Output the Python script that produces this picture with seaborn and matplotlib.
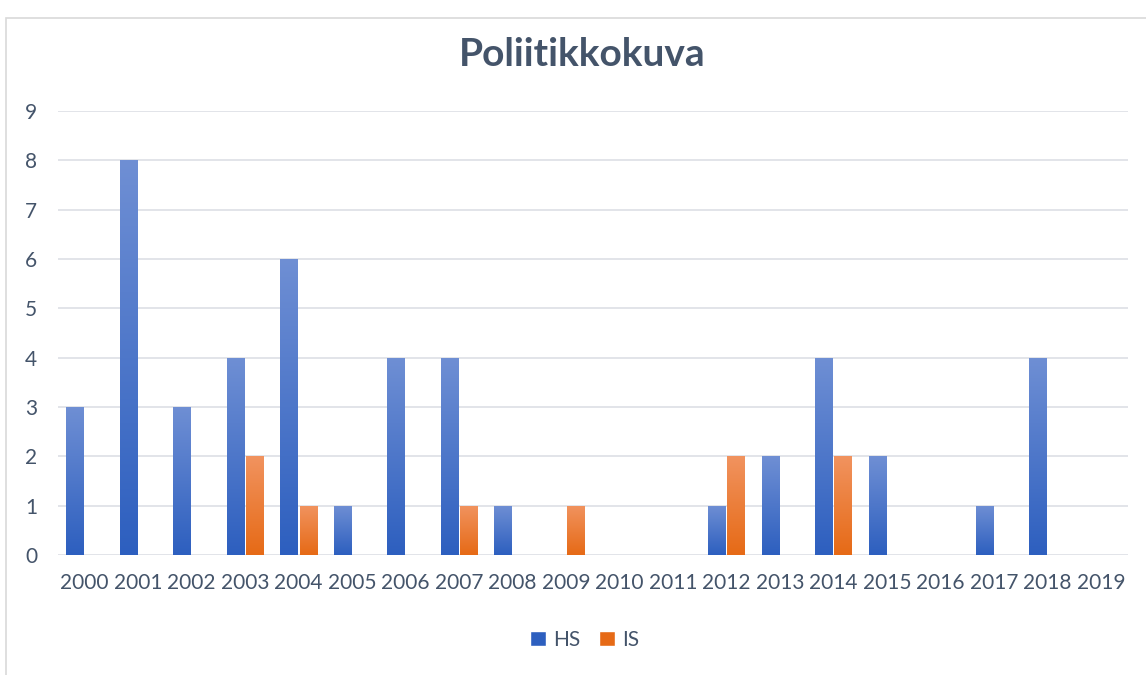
import numpy as np
import pandas as pd
import seaborn as sb
from matplotlib import pyplot as plt
from matplotlib.patches import Rectangle, Patch
from matplotlib.colors import LinearSegmentedColormap

years = [str(y) for y in range(2000, 2020)]
hs = [3, 8, 3, 4, 6, 1, 4, 4, 1, 0, 0, 0, 1, 2, 4, 2, 0, 1, 4, 0]
is_vals = [0, 0, 0, 2, 1, 0, 0, 1, 0, 1, 0, 0, 2, 0, 2, 0, 0, 0, 0, 0]
series = ['HS', 'IS']

text_col = '#44546a'
grad = {
    'HS': ('#6f8fd4', '#2d5fbf'),
    'IS': ('#f1935f', '#e66a16'),
}

df = pd.DataFrame({
    'year': years * 2,
    'count': hs + is_vals,
    'lehti': ['HS'] * len(years) + ['IS'] * len(years),
})

sb.set_style('white')
plt.rcParams['font.family'] = ['Lato', 'DejaVu Sans']

fig = plt.figure(figsize=(11.46, 6.75), dpi=100)
ax = fig.add_axes([0.0506, 0.1778, 0.9334, 0.6578])

sb.barplot(data=df, x='year', y='count', hue='lehti', hue_order=series,
           palette=[grad['HS'][1], grad['IS'][1]], width=0.72, gap=0.1,
           legend=False, ax=ax)

# gradient fill for each bar
for container, name in zip(ax.containers, series):
    cmap = LinearSegmentedColormap.from_list(name, [grad[name][1], grad[name][0]])
    for bar in container:
        h = bar.get_height()
        if h <= 0:
            bar.set_visible(False)
            continue
        x0 = bar.get_x()
        w = bar.get_width()
        bar.set_facecolor('none')
        bar.set_edgecolor('none')
        g = np.linspace(0, 1, 256).reshape(-1, 1)
        im = ax.imshow(g, cmap=cmap, origin='lower', aspect='auto',
                       extent=[x0, x0 + w, 0, h], zorder=2)
        im.set_clip_path(bar)

ax.set_xlim(-0.5, len(years) - 0.5)
ax.set_ylim(0, 9)
ax.set_yticks(range(0, 10))
ax.yaxis.grid(True, color='#dfe2e7', linewidth=1.3)
ax.set_axisbelow(True)
for s in ax.spines.values():
    s.set_visible(False)
ax.set_xlabel('')
ax.set_ylabel('')
ax.tick_params(axis='both', length=0, labelsize=15, labelcolor=text_col)
ax.tick_params(axis='x', pad=13)
ax.tick_params(axis='y', pad=15)

fig.text(0.508, 0.92, 'Poliitikkokuva', ha='center', va='center',
         fontsize=28, fontweight='bold', color=text_col)

handles = [Patch(facecolor=grad[n][1], label=n) for n in series]
fig.legend(handles=handles, loc='center', bbox_to_anchor=(0.51, 0.052), ncol=2,
           frameon=False, fontsize=15, labelcolor=text_col, handlelength=0.75,
           handleheight=0.75, handletextpad=0.35, columnspacing=0.9)

fig.patches.append(Rectangle((0.005, -0.01), 1.0, 0.9835, transform=fig.transFigure,
                             fill=False, edgecolor='#d9d9d9', linewidth=1.2))

fig.savefig('out.png', dpi=100)
